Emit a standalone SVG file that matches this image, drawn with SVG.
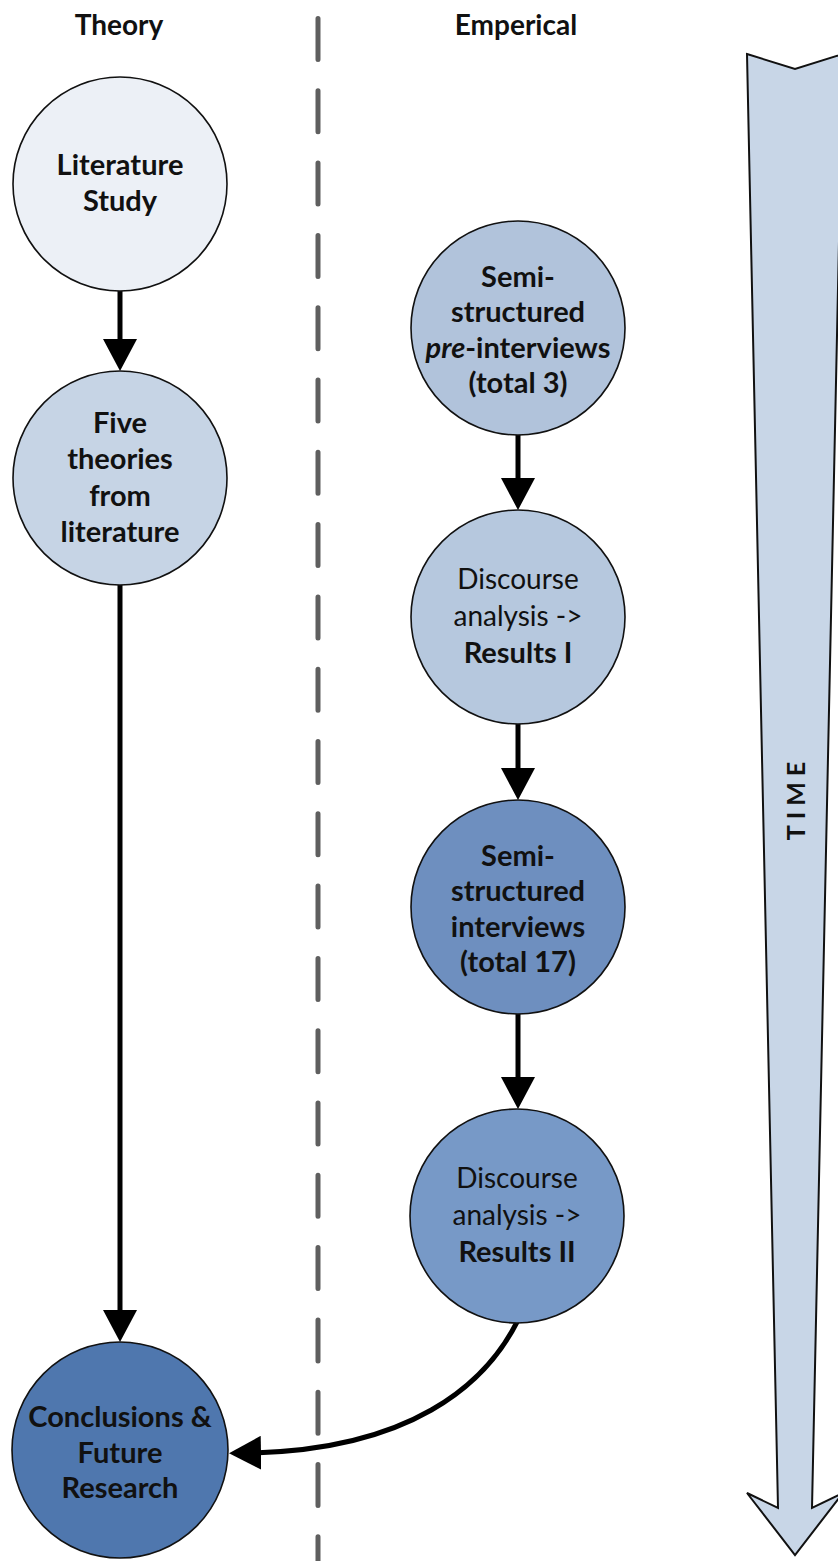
<svg xmlns="http://www.w3.org/2000/svg" width="838" height="1561" viewBox="0 0 838 1561">
  <style>
    .lbl { font-family: Lato, "Open Sans", "Liberation Sans", sans-serif; font-size: 28px; fill: #111; text-anchor: middle; }
    .b { font-weight: bold; font-size: 29px; }
    .node { stroke: #111; stroke-width: 1.6; }
    .conn { fill: none; stroke: #000; stroke-width: 5; }
    .head { font-family: Lato, "Open Sans", "Liberation Sans", sans-serif; font-size: 28px; font-weight: bold; fill: #111; text-anchor: middle; }
  </style>
  <defs>
    <marker id="arrow" viewBox="0 0 32 34" refX="12" refY="17" markerWidth="32" markerHeight="34" markerUnits="userSpaceOnUse" orient="auto">
      <path d="M0,0 L32,17 L0,34 Z" fill="#000"/>
    </marker>
  </defs>

  <!-- column headings -->
  <text class="head" x="119" y="35">Theory</text>
  <text class="head" x="516" y="35">Emperical</text>

  <!-- divider between the two columns -->
  <line x1="318" y1="18.5" x2="318" y2="1575" stroke="#5f5f5f" stroke-width="5" stroke-linecap="round" stroke-dasharray="41 31.3"/>

  <!-- time arrow -->
  <g id="time">
    <polygon points="747,54 795,69 843,54 812,1508 843,1493 795,1555 747,1493 778,1508" fill="#c8d6e7" stroke="#111" stroke-width="2" stroke-linejoin="miter"/>
    <text transform="translate(805,801) rotate(-90)" x="3" y="0" class="head" style="font-size:25px; letter-spacing:6px">TIME</text>
  </g>

  <!-- connectors -->
  <g id="connectors">
    <path class="conn" d="M120,291 V351" marker-end="url(#arrow)"/>
    <path class="conn" d="M120,585 V1322" marker-end="url(#arrow)"/>
    <path class="conn" d="M518,435 V490" marker-end="url(#arrow)"/>
    <path class="conn" d="M518,724 V780" marker-end="url(#arrow)"/>
    <path class="conn" d="M518,1014 V1089" marker-end="url(#arrow)"/>
    <path class="conn" d="M517,1322 C485,1385 410,1450 249,1453" marker-end="url(#arrow)"/>
  </g>

  <!-- theory column -->
  <g id="literature-study">
    <circle class="node" cx="120" cy="184" r="107" fill="#ecf0f6"/>
    <text class="lbl b" x="120" y="175">Literature</text>
    <text class="lbl b" x="120" y="211">Study</text>
  </g>
  <g id="five-theories">
    <circle class="node" cx="120" cy="478" r="107" fill="#c6d4e5"/>
    <text class="lbl b" x="120" y="433">Five</text>
    <text class="lbl b" x="120" y="469">theories</text>
    <text class="lbl b" x="120" y="506">from</text>
    <text class="lbl b" x="120" y="542">literature</text>
  </g>
  <g id="conclusions">
    <circle class="node" cx="120" cy="1450" r="108" fill="#4f77ae"/>
    <text class="lbl b" x="120" y="1427">Conclusions &amp;</text>
    <text class="lbl b" x="120" y="1463">Future</text>
    <text class="lbl b" x="120" y="1498">Research</text>
  </g>

  <!-- empirical column -->
  <g id="pre-interviews">
    <circle class="node" cx="518" cy="328" r="107" fill="#b1c3db"/>
    <text class="lbl b" x="518" y="287">Semi-</text>
    <text class="lbl b" x="518" y="322">structured</text>
    <text class="lbl b" x="518" y="358"><tspan font-style="italic">pre</tspan>-interviews</text>
    <text class="lbl b" x="518" y="393">(total 3)</text>
  </g>
  <g id="results-1">
    <circle class="node" cx="518" cy="617" r="107" fill="#b6c8de"/>
    <text class="lbl" x="518" y="589">Discourse</text>
    <text class="lbl" x="518" y="626">analysis -&gt;</text>
    <text class="lbl b" x="518" y="663">Results I</text>
  </g>
  <g id="interviews">
    <circle class="node" cx="518" cy="907" r="107" fill="#6e8fbf"/>
    <text class="lbl b" x="518" y="866">Semi-</text>
    <text class="lbl b" x="518" y="901">structured</text>
    <text class="lbl b" x="518" y="937">interviews</text>
    <text class="lbl b" x="518" y="972">(total 17)</text>
  </g>
  <g id="results-2">
    <circle class="node" cx="517" cy="1216" r="107" fill="#7799c7"/>
    <text class="lbl" x="517" y="1188">Discourse</text>
    <text class="lbl" x="517" y="1225">analysis -&gt;</text>
    <text class="lbl b" x="517" y="1262">Results II</text>
  </g>
</svg>
